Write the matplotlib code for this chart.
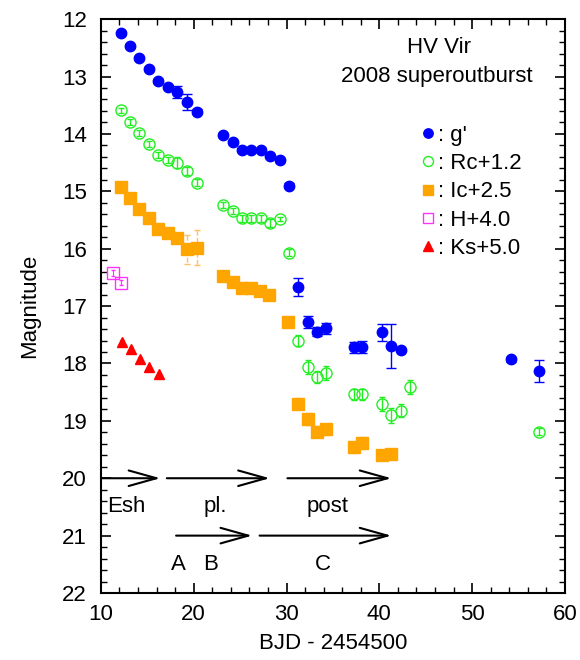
import matplotlib
matplotlib.use("Agg")
import matplotlib.pyplot as plt
import numpy as np

plt.rcParams['font.family'] = ['Liberation Sans', 'DejaVu Sans']

# g' band
g_t = [12.14, 13.15, 14.15, 15.17, 16.18, 17.19, 18.21, 19.29, 20.30,
       23.20, 24.21, 25.22, 26.19, 27.21, 28.19, 29.31, 30.28,
       31.23, 32.31, 33.24, 34.26, 37.22, 38.17, 40.26, 41.27, 42.29,
       54.2, 57.2]
g_mag = [12.24, 12.47, 12.68, 12.87, 13.08, 13.18, 13.27, 13.45, 13.61,
         14.02, 14.14, 14.28, 14.28, 14.28, 14.39, 14.46, 14.90,
         16.67, 17.28, 17.45, 17.39, 17.72, 17.71, 17.46, 17.70, 17.77,
         17.93, 18.13]
g_err = [0.03, 0.03, 0.03, 0.03, 0.03, 0.04, 0.10, 0.14, 0.04,
         0.03, 0.03, 0.03, 0.03, 0.03, 0.03, 0.03, 0.05,
         0.16, 0.10, 0.08, 0.10, 0.10, 0.10, 0.15, 0.38, 0.03,
         0.05, 0.19]

# Rc + 1.2
r_t = [12.14, 13.15, 14.15, 15.17, 16.18, 17.19, 18.21, 19.29, 20.30,
       23.20, 24.21, 25.22, 26.19, 27.21, 28.19, 29.31, 30.28,
       31.23, 32.31, 33.24, 34.26, 37.22, 38.17, 40.26, 41.27, 42.29, 43.3,
       57.25]
r_mag = [13.59, 13.79, 13.99, 14.17, 14.37, 14.46, 14.50, 14.64, 14.85,
         15.24, 15.34, 15.47, 15.47, 15.47, 15.56, 15.48, 16.07,
         17.60, 18.06, 18.24, 18.17, 18.54, 18.54, 18.70, 18.90, 18.82, 18.41,
         19.19]
r_err = [0.05, 0.05, 0.05, 0.05, 0.05, 0.05, 0.10, 0.07, 0.06,
         0.05, 0.05, 0.06, 0.06, 0.06, 0.07, 0.04, 0.06,
         0.10, 0.12, 0.10, 0.12, 0.10, 0.10, 0.12, 0.13, 0.12, 0.12,
         0.06]

# Ic + 2.5
i_t = [12.14, 13.15, 14.15, 15.17, 16.18, 17.19, 18.21, 19.29, 20.30,
       23.20, 24.25, 25.22, 26.19, 27.12, 28.10, 30.12,
       31.23, 32.31, 33.24, 34.26, 37.22, 38.17, 40.26, 41.27]
i_mag = [14.92, 15.11, 15.31, 15.47, 15.65, 15.73, 15.81, 16.01, 15.98,
         16.48, 16.58, 16.69, 16.69, 16.73, 16.81, 17.28,
         18.70, 18.97, 19.19, 19.15, 19.46, 19.39, 19.60, 19.58]
i_err = [0.02, 0.02, 0.02, 0.02, 0.02, 0.03, 0.05, 0.25, 0.30,
         0.02, 0.02, 0.02, 0.02, 0.02, 0.02, 0.02,
         0.10, 0.10, 0.10, 0.10, 0.10, 0.10, 0.08, 0.08]

# H + 4.0
h_t = [11.28, 12.18]
h_mag = [16.43, 16.59]
h_err = [0.05, 0.05]

# Ks + 5.0
k_t = [12.24, 13.24, 14.21, 15.21, 16.23]
k_mag = [17.62, 17.74, 17.92, 18.07, 18.19]
k_err = [0.03, 0.03, 0.03, 0.03, 0.03]

# phase arrows: (start, end, magnitude level)
arrows = [(10.0, 16.4, 20.0), (17.1, 28.2, 20.0), (30.1, 41.3, 20.0),
          (18.1, 26.3, 21.0), (27.1, 41.3, 21.0)]
phase_labels = [("Esh", 12.7, 20.5), ("pl.", 22.3, 20.5), ("post", 34.4, 20.5),
                ("A", 18.4, 21.5), ("B", 21.8, 21.5), ("C", 33.9, 21.5)]

FS = 16

fig = plt.figure(figsize=(5.8, 6.6), dpi=100)
ax = fig.add_axes([0.174, 0.1015, 0.8, 0.8695])

eg = ax.errorbar(g_t, g_mag, yerr=g_err, fmt='o', color='#0000ff', ms=7.5,
                 elinewidth=1, capsize=3.5, zorder=5)
er = ax.errorbar(r_t, r_mag, yerr=r_err, fmt='o', mfc='none', mec='#22ee22',
                 ecolor='#22ee22', mew=1, ms=8, elinewidth=1, capsize=2.5, zorder=4)
ei = ax.errorbar(i_t, i_mag, yerr=i_err, fmt='s', color='#ffa500', ms=8,
                 ecolor='#ffc060', elinewidth=1, capsize=2.5, zorder=3)
ei[2][0].set_linestyle('--')
for c in ei[1]:
    c.set_linestyle('none')
eh = ax.errorbar(h_t, h_mag, yerr=h_err, fmt='s', mfc='none', mec='#ff33ff',
                 ecolor='#ff33ff', mew=1, ms=8, elinewidth=0.8, capsize=1.5, zorder=3)
ek = ax.errorbar(k_t, k_mag, yerr=k_err, fmt='^', color='#ff0000', ms=7.5,
                 elinewidth=0.8, capsize=1.5, zorder=3)

for x0, x1, y in arrows:
    ax.annotate('', xy=(x1, y), xytext=(x0, y),
                arrowprops=dict(arrowstyle='->,head_length=1.0,head_width=0.28',
                                color='black', lw=1.5, mutation_scale=20,
                                shrinkA=0, shrinkB=0))
for txt, x, y in phase_labels:
    ax.text(x, y, txt, fontsize=FS, ha='center', va='center')

ax.text(46.4, 12.5, "HV Vir", fontsize=FS, ha='center', va='center')
ax.text(46.2, 13.0, "2008 superoutburst", fontsize=FS, ha='center', va='center')

handles = [eg[0], er[0], ei[0], eh[0], ek[0]]
labels = [": g'", ": Rc+1.2", ": Ic+2.5", ": H+4.0", ": Ks+5.0"]
ax.legend(handles, labels, loc='upper left', bbox_to_anchor=(0.69, 0.816),
          frameon=False, fontsize=FS, markerscale=0.9, handlelength=0.6,
          handletextpad=0.15, labelspacing=0.33, borderpad=0, borderaxespad=0)

ax.set_xlim(10, 60)
ax.set_ylim(22, 12)
ax.set_xticks(np.arange(10, 61, 10))
ax.set_xticks(np.arange(10, 61, 2), minor=True)
ax.set_yticks(np.arange(12, 23, 1))
ax.set_yticks(np.arange(12, 22.01, 0.2), minor=True)
ax.tick_params(which='both', direction='in', top=True, right=True, labelsize=FS)
ax.tick_params(which='major', length=7, width=1.2)
ax.tick_params(which='minor', length=4, width=1)
ax.tick_params(axis='x', which='major', pad=8)
ax.tick_params(axis='y', which='major', pad=10)
for s in ax.spines.values():
    s.set_linewidth(1.5)
ax.set_xlabel("BJD - 2454500", fontsize=FS, labelpad=6)
ax.set_ylabel("Magnitude", fontsize=FS, labelpad=16)

fig.savefig("out.png", dpi=100)
